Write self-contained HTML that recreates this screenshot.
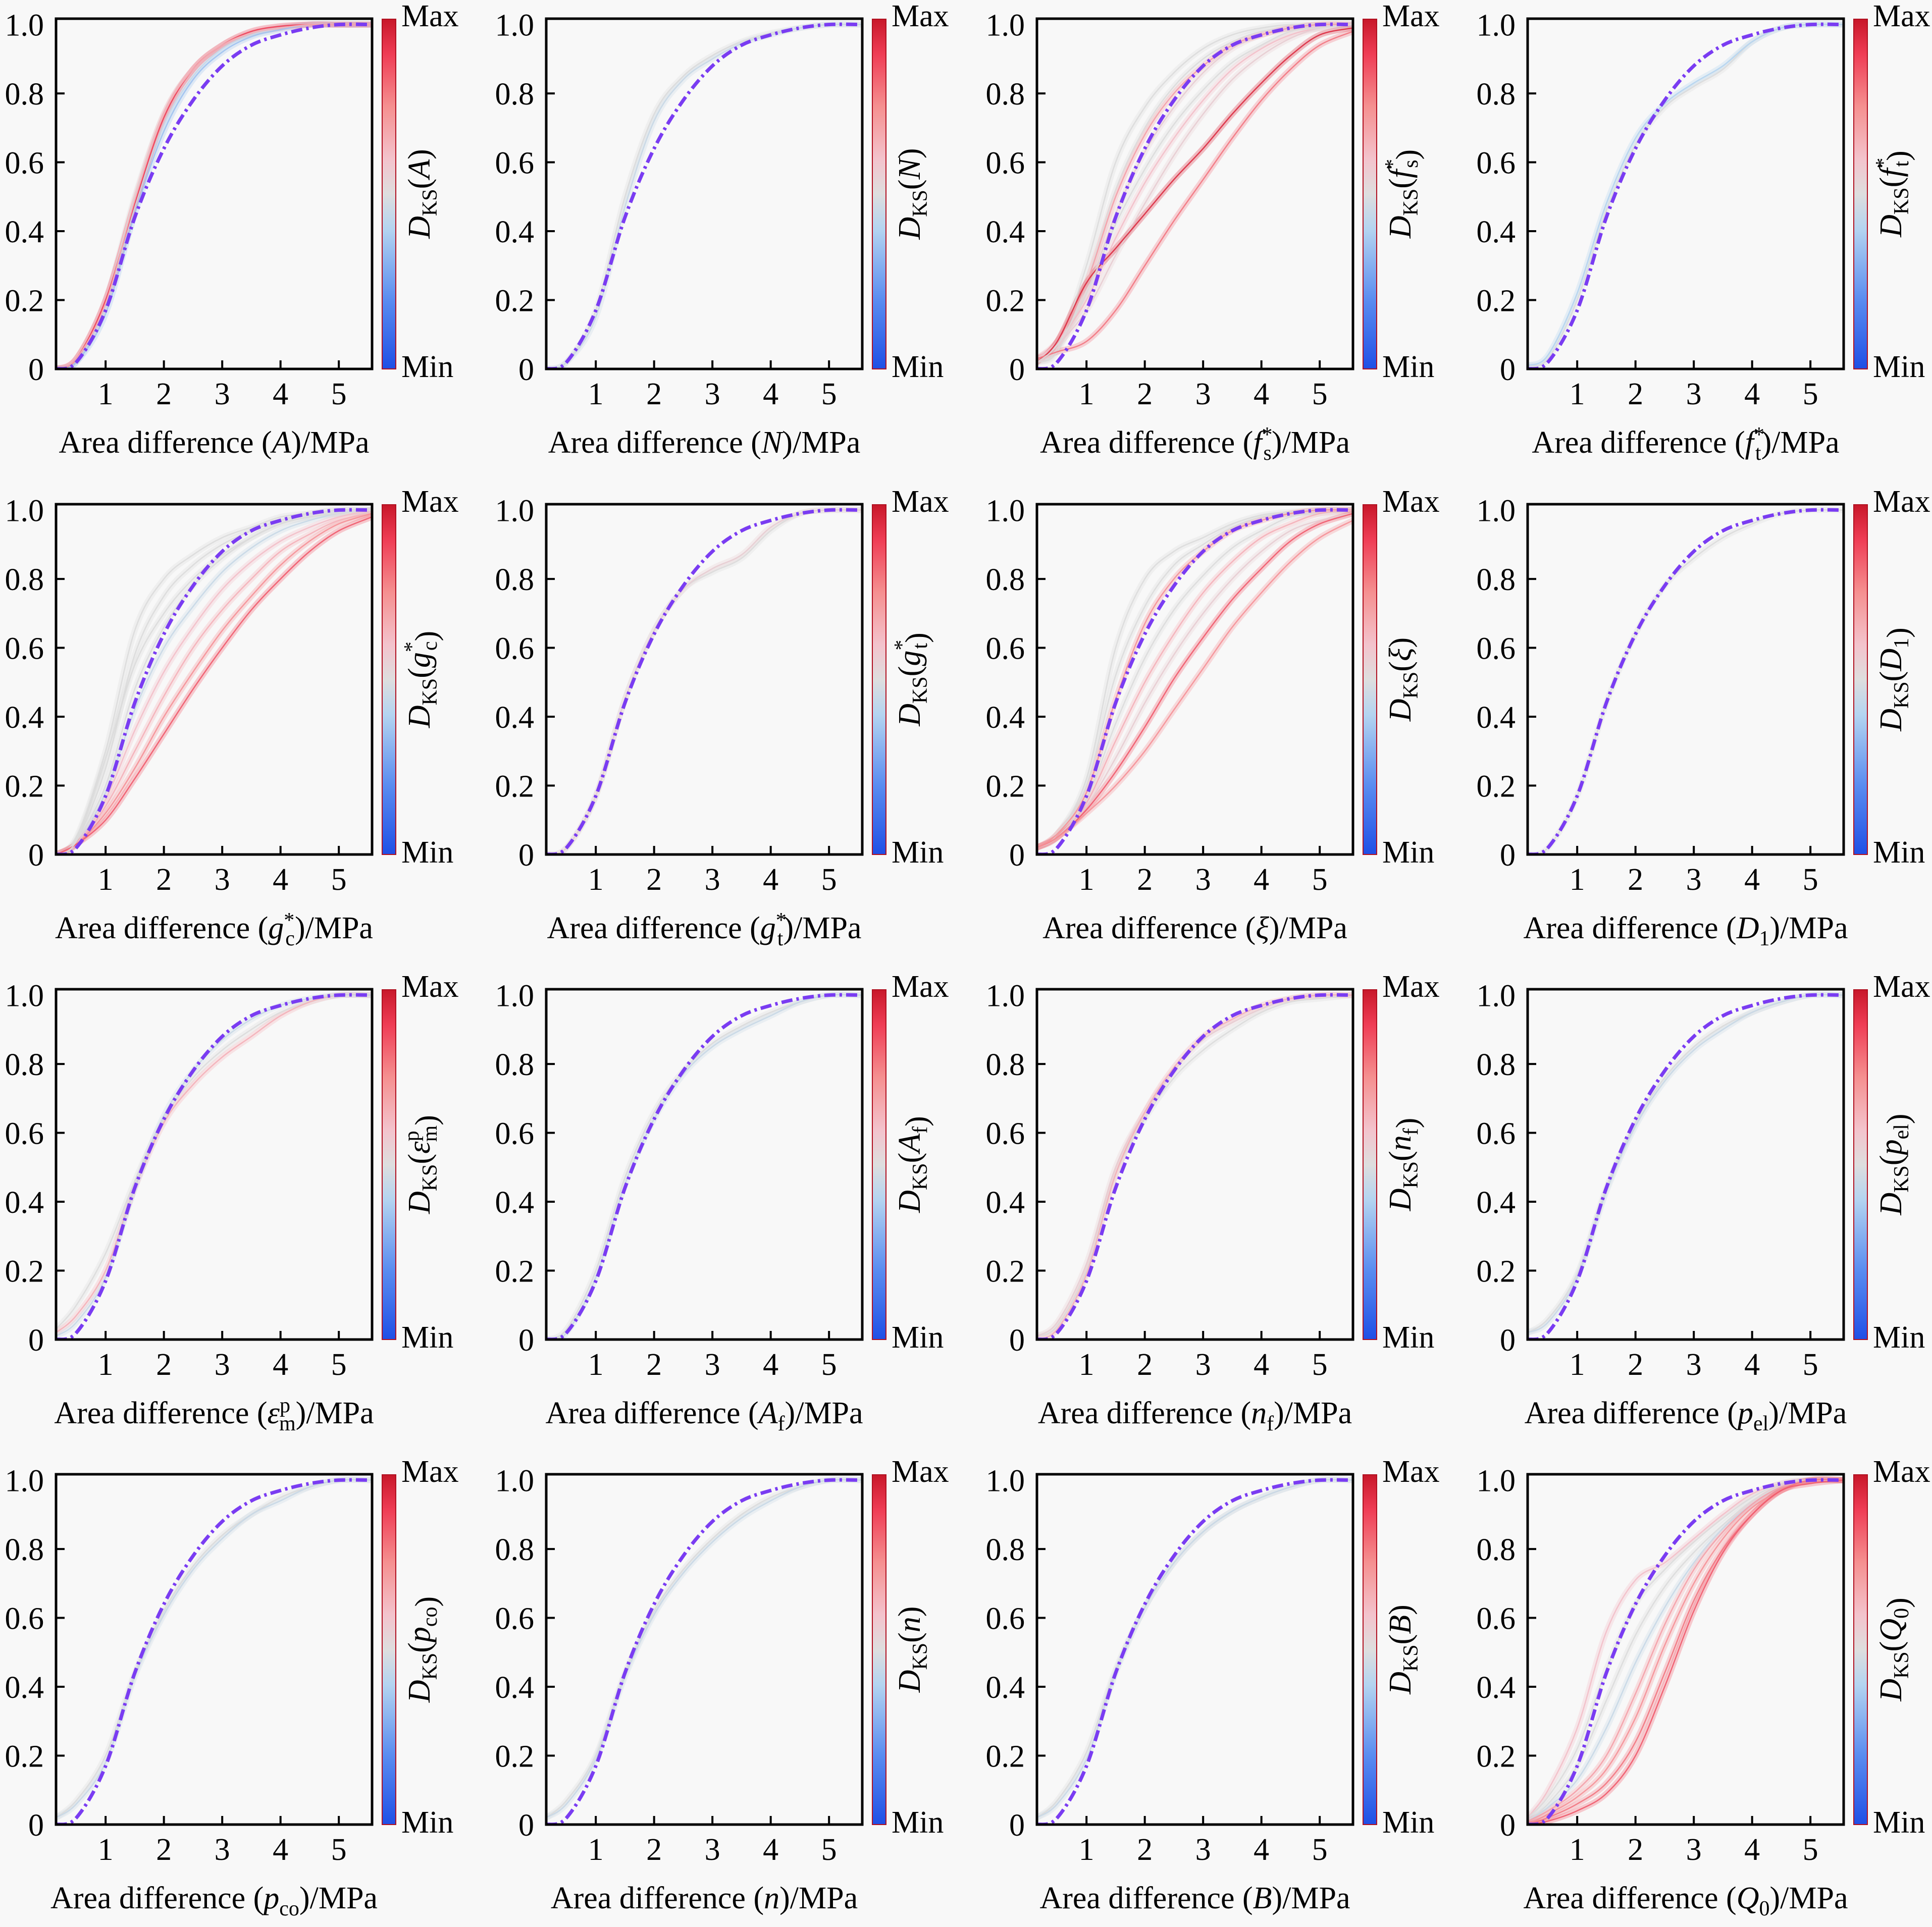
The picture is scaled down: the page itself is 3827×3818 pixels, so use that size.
<!DOCTYPE html>
<html><head><meta charset="utf-8">
<style>
html,body{margin:0;padding:0;background:#f8f8f8;}
svg{display:block;}
svg text{font-family:"Liberation Serif","Times New Roman","DejaVu Serif","Noto Serif CJK SC",serif;}
</style></head>
<body>
<svg id="fig" width="3827" height="3818" viewBox="0 0 3827 3818" xmlns="http://www.w3.org/2000/svg">
<defs>
<linearGradient id="cbar" x1="0" y1="1" x2="0" y2="0">
<stop offset="0" stop-color="#1f4fe6"/>
<stop offset="0.2" stop-color="#5b8df0"/>
<stop offset="0.4" stop-color="#b4d4f0"/>
<stop offset="0.5" stop-color="#dedede"/>
<stop offset="0.6" stop-color="#f3c3cc"/>
<stop offset="0.75" stop-color="#f59090"/>
<stop offset="0.9" stop-color="#ef3d55"/>
<stop offset="1" stop-color="#c8182a"/>
</linearGradient>
</defs>
</svg>
<script>
// shared x grid (MPa) for all curves
const xGrid = [0.15, 0.5, 1, 1.5, 2, 2.5, 3, 3.5, 4, 4.5, 5, 5.57];
// reference (target) CDF, dashed purple line
const refCurve = [0, 0.02, 0.17, 0.44, 0.64, 0.78, 0.88, 0.94, 0.97, 0.99, 1.0, 1.0];
const xTicks = [1, 2, 3, 4, 5];
const yTicks = [0, 0.2, 0.4, 0.6, 0.8, 1.0];
const yTickLabels = ["0", "0.2", "0.4", "0.6", "0.8", "1.0"];
// parameter symbols (markup) per panel
const panelSymbols = [
 '<tspan font-style="italic">A</tspan>',
 '<tspan font-style="italic">N</tspan>',
 '<tspan font-style="italic">f</tspan><tspan font-size="42" dy="-22">*</tspan><tspan font-size="42" dx="-18" dy="36">s</tspan><tspan dy="-14">',
 '<tspan font-style="italic">f</tspan><tspan font-size="42" dy="-22">*</tspan><tspan font-size="42" dx="-18" dy="36">t</tspan><tspan dy="-14">',
 '<tspan font-style="italic">g</tspan><tspan font-size="42" dy="-22">*</tspan><tspan font-size="42" dx="-18" dy="36">c</tspan><tspan dy="-14">',
 '<tspan font-style="italic">g</tspan><tspan font-size="42" dy="-22">*</tspan><tspan font-size="42" dx="-18" dy="36">t</tspan><tspan dy="-14">',
 '<tspan font-style="italic">ξ</tspan>',
 '<tspan font-style="italic">D</tspan><tspan font-size="42" dy="14">1</tspan><tspan dy="-14">',
 '<tspan font-style="italic">ε</tspan><tspan font-size="42" dy="-22">p</tspan><tspan font-size="42" dx="-22" dy="36">m</tspan><tspan dy="-14">',
 '<tspan font-style="italic">A</tspan><tspan font-size="42" dy="14">f</tspan><tspan dy="-14">',
 '<tspan font-style="italic">n</tspan><tspan font-size="42" dy="14">f</tspan><tspan dy="-14">',
 '<tspan font-style="italic">p</tspan><tspan font-size="42" dy="14">el</tspan><tspan dy="-14">',
 '<tspan font-style="italic">p</tspan><tspan font-size="42" dy="14">co</tspan><tspan dy="-14">',
 '<tspan font-style="italic">n</tspan>',
 '<tspan font-style="italic">B</tspan>',
 '<tspan font-style="italic">Q</tspan><tspan font-size="42" dy="14">0</tspan><tspan dy="-14">'
];
// per-panel curve families: first value = D_KS colour value (0..1), rest = CDF at xGrid
const cA = [[0.5,0,0.03,0.2,0.5,0.74,0.87,0.94,0.975,0.99,1,1,1],[0.45,0,0.02,0.18,0.47,0.71,0.85,0.93,0.97,0.99,1,1,1],[0.35,0,0.02,0.16,0.45,0.69,0.84,0.92,0.965,0.985,1,1,1],[0.9,0,0.03,0.2,0.48,0.73,0.87,0.94,0.98,0.995,1,1,1],[0.65,0,0.03,0.19,0.49,0.74,0.87,0.94,0.975,0.99,1,1,1]];
const cN = [[0.5,0,0.02,0.17,0.5,0.74,0.85,0.91,0.95,0.975,0.99,1,1],[0.45,0,0.02,0.15,0.47,0.72,0.84,0.9,0.945,0.97,0.99,1,1]];
const cFs = [[0.5,0.02,0.06,0.3,0.6,0.76,0.86,0.93,0.97,0.99,1,1,1],[0.5,0.02,0.05,0.25,0.52,0.7,0.82,0.9,0.95,0.98,0.99,1,1],[0.55,0.02,0.06,0.22,0.45,0.63,0.76,0.86,0.93,0.97,0.99,1,1],[0.7,0.03,0.08,0.25,0.5,0.68,0.8,0.88,0.94,0.97,0.99,1,1],[0.6,0.03,0.08,0.2,0.38,0.54,0.67,0.78,0.87,0.93,0.97,0.99,1],[0.55,0.03,0.07,0.17,0.33,0.48,0.62,0.74,0.84,0.91,0.96,0.99,1],[0.95,0.02,0.08,0.25,0.35,0.45,0.55,0.64,0.74,0.83,0.91,0.97,0.99],[0.8,0.03,0.05,0.08,0.17,0.3,0.43,0.55,0.67,0.78,0.87,0.94,0.98],[0.5,0.02,0.07,0.22,0.42,0.58,0.71,0.81,0.89,0.94,0.98,0.99,1]];
const cFt = [[0.5,0.01,0.03,0.2,0.46,0.65,0.76,0.82,0.87,0.95,0.99,1,1],[0.4,0.01,0.04,0.22,0.48,0.67,0.77,0.83,0.88,0.95,0.99,1,1]];
const cGc = [[0.5,0,0.05,0.3,0.65,0.8,0.87,0.92,0.95,0.98,0.99,1,1],[0.5,0,0.04,0.25,0.58,0.75,0.84,0.9,0.94,0.97,0.99,1,1],[0.5,0,0.04,0.2,0.48,0.66,0.78,0.86,0.92,0.96,0.98,0.99,1],[0.45,0,0.03,0.18,0.42,0.6,0.72,0.82,0.89,0.94,0.97,0.99,1],[0.6,0,0.03,0.16,0.36,0.53,0.66,0.77,0.85,0.91,0.95,0.98,1],[0.65,0,0.03,0.14,0.3,0.46,0.6,0.71,0.8,0.88,0.93,0.97,0.99],[0.75,0,0.03,0.12,0.25,0.4,0.53,0.65,0.75,0.84,0.91,0.96,0.99],[0.85,0,0.03,0.1,0.22,0.35,0.48,0.6,0.71,0.8,0.88,0.94,0.98],[0.5,0,0.04,0.28,0.55,0.7,0.8,0.87,0.92,0.96,0.98,0.99,1]];
const cGt = [[0.5,0,0.02,0.17,0.45,0.65,0.77,0.82,0.86,0.94,0.99,1,1],[0.55,0,0.02,0.17,0.45,0.65,0.77,0.83,0.87,0.95,0.99,1,1]];
const cXi = [[0.5,0.02,0.06,0.22,0.6,0.8,0.88,0.92,0.96,0.985,0.995,1,1],[0.5,0.02,0.06,0.2,0.52,0.72,0.84,0.9,0.95,0.98,0.99,1,1],[0.75,0.02,0.06,0.18,0.45,0.67,0.8,0.88,0.94,0.97,0.99,1,1],[0.5,0.02,0.05,0.16,0.38,0.57,0.71,0.81,0.89,0.94,0.98,0.99,1],[0.65,0.02,0.05,0.15,0.33,0.5,0.64,0.76,0.85,0.92,0.96,0.99,1],[0.55,0.02,0.05,0.14,0.28,0.44,0.58,0.7,0.8,0.88,0.94,0.97,0.99],[0.85,0.02,0.05,0.13,0.24,0.37,0.51,0.63,0.74,0.83,0.91,0.96,0.99],[0.75,0.02,0.05,0.12,0.2,0.3,0.42,0.54,0.66,0.76,0.85,0.92,0.97]];
const cD1 = [[0.5,0,0.02,0.17,0.44,0.64,0.78,0.86,0.92,0.96,0.99,1,1]];
const cEp = [[0.5,0.03,0.1,0.25,0.46,0.64,0.76,0.84,0.9,0.95,0.98,1,1],[0.65,0.02,0.07,0.2,0.44,0.63,0.74,0.82,0.88,0.94,0.98,1,1],[0.45,0.01,0.05,0.18,0.44,0.65,0.78,0.87,0.93,0.97,0.99,1,1]];
const cAf = [[0.5,0,0.03,0.2,0.47,0.66,0.78,0.86,0.91,0.95,0.98,1,1],[0.45,0,0.02,0.18,0.45,0.64,0.77,0.85,0.9,0.94,0.98,1,1]];
const cNf = [[0.5,0.01,0.04,0.2,0.48,0.64,0.76,0.84,0.9,0.95,0.98,0.99,1],[0.55,0.01,0.05,0.22,0.5,0.66,0.78,0.87,0.92,0.96,0.99,1,1],[0.65,0,0.03,0.19,0.48,0.66,0.79,0.88,0.93,0.97,0.99,1,1]];
const cPel = [[0.5,0.02,0.06,0.19,0.44,0.63,0.76,0.85,0.91,0.95,0.98,1,1],[0.45,0.02,0.05,0.18,0.43,0.62,0.75,0.84,0.9,0.95,0.98,1,1]];
const cPco = [[0.5,0.02,0.07,0.2,0.44,0.62,0.75,0.84,0.9,0.95,0.98,1,1],[0.45,0.02,0.06,0.18,0.43,0.61,0.74,0.83,0.9,0.94,0.98,1,1]];
const cN2 = [[0.5,0.02,0.07,0.2,0.44,0.62,0.74,0.83,0.9,0.95,0.98,1,1],[0.45,0.02,0.06,0.19,0.43,0.61,0.73,0.82,0.89,0.94,0.98,1,1]];
const cB = [[0.5,0.02,0.07,0.21,0.45,0.63,0.76,0.85,0.91,0.95,0.98,1,1],[0.45,0.02,0.06,0.19,0.44,0.63,0.76,0.85,0.91,0.95,0.98,1,1]];
const cQ0 = [[0.6,0.02,0.1,0.28,0.56,0.71,0.76,0.83,0.9,0.96,0.99,1,1],[0.5,0.02,0.08,0.22,0.45,0.64,0.74,0.82,0.89,0.95,0.99,1,1],[0.5,0.01,0.06,0.17,0.36,0.55,0.69,0.79,0.87,0.94,0.98,1,1],[0.45,0.01,0.05,0.13,0.28,0.47,0.63,0.76,0.86,0.93,0.98,1,1],[0.7,0.01,0.04,0.1,0.2,0.38,0.58,0.74,0.85,0.93,0.98,1,1],[0.75,0,0.03,0.08,0.16,0.31,0.52,0.7,0.83,0.92,0.97,1,1],[0.8,0,0.02,0.06,0.12,0.24,0.44,0.65,0.8,0.9,0.97,1,1],[0.85,0,0.01,0.04,0.09,0.2,0.4,0.62,0.79,0.9,0.97,0.99,1]];
const panelCurves = [cA,cN,cFs,cFt,cGc,cGt,cXi,cD1,cEp,cAf,cNf,cPel,cPco,cN2,cB,cQ0];

const svg = document.getElementById('fig');
const NS = 'http://www.w3.org/2000/svg';
const FONT = '"Liberation Serif", "Times New Roman", "DejaVu Serif", "Noto Serif CJK SC", serif';
const colX = [111, 1082, 2054, 3026], rowY = [37, 999, 1960, 2921];
const PW = 626, PH = 694, XMIN = 0.15, XMAX = 5.57, YMAX = 1.017;

function colorOf(v){
  const st=[[0,[31,79,230]],[0.2,[91,141,240]],[0.4,[180,212,240]],[0.5,[218,218,218]],[0.6,[243,190,200]],[0.75,[245,144,150]],[0.9,[239,61,85]],[1,[200,24,42]]];
  for(let i=1;i<st.length;i++){ if(v<=st[i][0]){const a=st[i-1],b=st[i],t=(v-a[0])/(b[0]-a[0]);
    return 'rgb('+a[1].map((c,j)=>Math.round(c+(b[1][j]-c)*t)).join(',')+')';}}
  return 'rgb(200,24,42)';
}
function mk(tag, attrs, parent){const e=document.createElementNS(NS,tag);for(const k in attrs)e.setAttribute(k,attrs[k]);if(tag==='text'){e.setAttribute('font-family',FONT);e.style.fontFamily=FONT;}(parent||svg).appendChild(e);return e;}
function pathFrom(ys, sx, sy){
  const p = xGrid.map((x,i)=>[sx(x), sy(ys[i])]);
  let d='M'+p[0][0].toFixed(1)+','+p[0][1].toFixed(1);
  for(let i=0;i<p.length-1;i++){
    const p0=p[Math.max(0,i-1)],p1=p[i],p2=p[i+1],p3=p[Math.min(p.length-1,i+2)];
    const c1=[p1[0]+(p2[0]-p0[0])/6,p1[1]+(p2[1]-p0[1])/6], c2=[p2[0]-(p3[0]-p1[0])/6,p2[1]-(p3[1]-p1[1])/6];
    d+='C'+c1.map(v=>v.toFixed(1)).join(',')+' '+c2.map(v=>v.toFixed(1)).join(',')+' '+p2[0].toFixed(1)+','+p2[1].toFixed(1);
  }
  return d;
}

panelSymbols.forEach((sym, idx)=>{
  const L = colX[idx%4], T = rowY[Math.floor(idx/4)];
  const sx = x => L + (x-XMIN)/(XMAX-XMIN)*PW;
  const sy = y => T + PH - y/YMAX*PH;
  const g = mk('g',{});
  
  
  const clipId='clip'+idx;
  const cp = mk('clipPath',{id:clipId},g); mk('rect',{x:L,y:T,width:PW,height:PH},cp);
  const cg = mk('g',{'clip-path':'url(#'+clipId+')'},g);
  const curves = panelCurves[idx];
  curves.forEach(c=>{
    const b = mk('path',{d:pathFrom(c.slice(1),sx,sy),fill:'none',stroke:colorOf(c[0]),'stroke-width':12,'stroke-opacity':0.3,'stroke-linecap':'round'},cg);
    
    
  });
  curves.forEach(c=>{
    const l = mk('path',{d:pathFrom(c.slice(1),sx,sy),fill:'none',stroke:colorOf(c[0]),'stroke-width':2.5,'stroke-opacity':0.9},cg);
    
    
  });
  const r = mk('path',{d:pathFrom(refCurve,sx,sy),fill:'none',stroke:'#7a3cf2','stroke-width':7,'stroke-dasharray':'22 8 5 8'},cg);
  
  
  const fr = mk('rect',{x:L,y:T,width:PW,height:PH,fill:'none',stroke:'#000','stroke-width':5},g);
  
  
  xTicks.forEach(t=>{
    const X=sx(t);
    const tk = mk('line',{x1:X,x2:X,y1:T+PH,y2:T+PH-17,stroke:'#000','stroke-width':4},g);
    
    
    const tl = mk('text',{x:X,y:T+PH+70,'font-size':62,'text-anchor':'middle',fill:'#000'},g);
    tl.textContent=String(t);
    
    
  });
  yTicks.forEach((t,i)=>{
    const Y=sy(t);
    if(i>0 && i<yTicks.length-1){
      const tk = mk('line',{x1:L,x2:L+17,y1:Y,y2:Y,stroke:'#000','stroke-width':4},g);
      
      
    }
    const tl = mk('text',{x:L-24,y:Y+22,'font-size':62,'text-anchor':'end',fill:'#000'},g);
    tl.textContent=yTickLabels[i];
    
    
  });
  const xl = mk('text',{x:L+PW/2,y:T+PH+166,'font-size':62,'text-anchor':'middle',fill:'#000'},g);
  xl.innerHTML='Area difference ('+sym+')</tspan>/MPa';
  
  
  const cb = mk('rect',{x:L+646,y:T+1,width:27,height:PH-1,fill:'url(#cbar)',stroke:'#b01020','stroke-width':2},g);
  
  
  const mx = mk('text',{x:L+684,y:T+15,'font-size':62,fill:'#000'},g); mx.textContent='Max';
  
  
  const mn = mk('text',{x:L+684,y:T+PH+16,'font-size':62,fill:'#000'},g); mn.textContent='Min';
  
  
  const cx=L+740, cy=T+PH/2;
  const yl = mk('text',{x:cx,y:cy,'font-size':62,'text-anchor':'middle',fill:'#000',transform:'rotate(-90 '+cx+' '+cy+')'},g);
  yl.innerHTML='<tspan font-style="italic">D</tspan><tspan font-size="42" dy="14">KS</tspan><tspan dy="-14">(</tspan>'+sym+'</tspan>)';
  
  
});
</script>
</body></html>
